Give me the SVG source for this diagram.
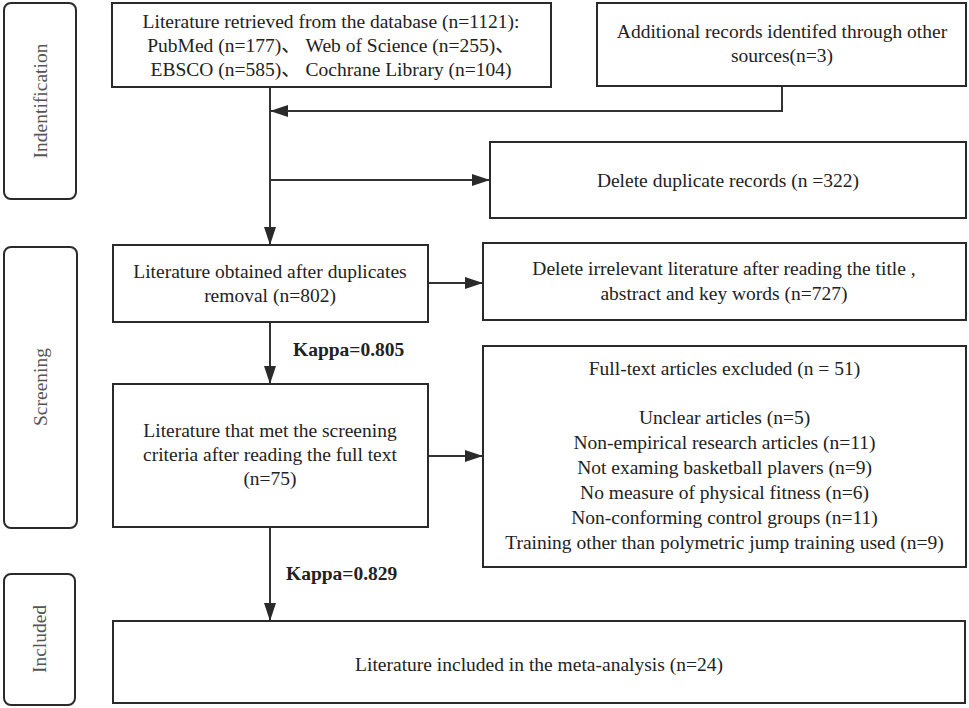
<svg xmlns="http://www.w3.org/2000/svg" width="969" height="708" viewBox="0 0 969 708">
<defs>
<style>
.box{fill:#fff;stroke:#2a2a2a;stroke-width:2}
.side{fill:#fff;stroke:#2a2a2a;stroke-width:2}
.t{font-family:"Liberation Serif","Noto Sans CJK SC",serif;font-size:19.5px;fill:#222;text-anchor:middle}
.s{font-family:"Liberation Serif",serif;font-size:19.5px;fill:#555;text-anchor:middle}
.k{font-family:"Liberation Serif",serif;font-size:19.5px;font-weight:bold;fill:#222}
.c{fill:none;stroke:#333;stroke-width:2}
</style>
<marker id="ah" viewBox="0 0 18 12" refX="18" refY="6" markerWidth="18" markerHeight="12" markerUnits="userSpaceOnUse" orient="auto">
<path d="M0,0 L18,6 L0,12 z" fill="#2a2a2a"/>
</marker>
</defs>
<rect width="969" height="708" fill="#fff"/>

<g id="side-identification">
<rect class="side" x="4" y="3" width="72" height="196" rx="7"/>
<text class="s" transform="translate(47,101) rotate(-90)">Indentification</text>
</g>
<g id="side-screening">
<rect class="side" x="4" y="247" width="73" height="281" rx="7"/>
<text class="s" transform="translate(47,387) rotate(-90)">Screening</text>
</g>
<g id="side-included">
<rect class="side" x="4" y="574" width="71" height="131" rx="7"/>
<text class="s" transform="translate(46,639) rotate(-90)">Included</text>
</g>

<g id="connectors">
<path class="c" d="M270,87 L270,245" marker-end="url(#ah)"/>
<path class="c" d="M782,86 L782,111 L270,111" marker-end="url(#ah)"/>
<path class="c" d="M270,180 L490,180" marker-end="url(#ah)"/>
<path class="c" d="M428,283 L483,283" marker-end="url(#ah)"/>
<path class="c" d="M270,322 L270,384" marker-end="url(#ah)"/>
<path class="c" d="M428,456 L483,456" marker-end="url(#ah)"/>
<path class="c" d="M270,527 L270,621" marker-end="url(#ah)"/>
<text class="k" x="293" y="356">Kappa=0.805</text>
<text class="k" x="286" y="580">Kappa=0.829</text>
</g>

<g id="node-database">
<rect class="box" x="112" y="3" width="439" height="84"/>
<text class="t" x="331" y="28">Literature retrieved from the database (n=1121):</text>
<text class="t" x="331" y="52">PubMed (n=177)、 Web of Science (n=255)、</text>
<text class="t" x="331" y="76">EBSCO (n=585)、 Cochrane Library (n=104)</text>
</g>
<g id="node-additional">
<rect class="box" x="597" y="3" width="369" height="83"/>
<text class="t" x="782" y="38">Additional records identifed through other</text>
<text class="t" x="782" y="62">sources(n=3)</text>
</g>
<g id="node-duplicates">
<rect class="box" x="490" y="142" width="476" height="76"/>
<text class="t" x="728" y="187">Delete duplicate records (n =322)</text>
</g>
<g id="node-obtained">
<rect class="box" x="113" y="245" width="315" height="77"/>
<text class="t" x="270" y="278">Literature obtained after duplicates</text>
<text class="t" x="270" y="302">removal (n=802)</text>
</g>
<g id="node-irrelevant">
<rect class="box" x="483" y="243" width="483" height="77"/>
<text class="t" x="724" y="275">Delete irrelevant literature after reading the title ,</text>
<text class="t" x="724" y="300">abstract and key words (n=727)</text>
</g>
<g id="node-fulltext">
<rect class="box" x="113" y="384" width="315" height="143"/>
<text class="t" x="270" y="437">Literature that met the screening</text>
<text class="t" x="270" y="461">criteria after reading the full text</text>
<text class="t" x="270" y="485">(n=75)</text>
</g>
<g id="node-excluded">
<rect class="box" x="483" y="346" width="483" height="221"/>
<text class="t" x="724.5" y="375">Full-text articles excluded (n = 51)</text>
<text class="t" x="724.5" y="424">Unclear articles (n=5)</text>
<text class="t" x="724.5" y="449">Non-empirical research articles (n=11)</text>
<text class="t" x="724.5" y="474">Not examing basketball plavers (n=9)</text>
<text class="t" x="724.5" y="499">No measure of physical fitness (n=6)</text>
<text class="t" x="724.5" y="524">Non-conforming control groups (n=11)</text>
<text class="t" x="724.5" y="549">Training other than polymetric jump training used (n=9)</text>
</g>
<g id="node-included">
<rect class="box" x="113" y="621" width="852" height="82"/>
<text class="t" x="539" y="671">Literature included in the meta-analysis (n=24)</text>
</g>
</svg>
